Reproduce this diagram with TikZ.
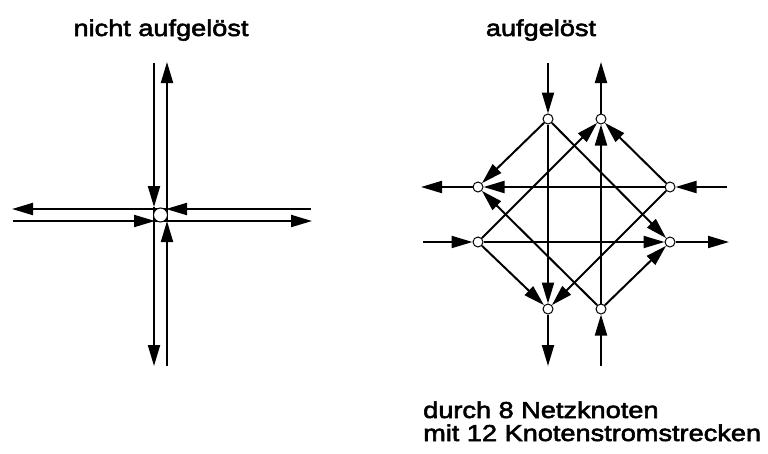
\documentclass[tikz,border=0pt]{standalone}
\usepackage{fontspec}
\newfontfamily\lblfont[FakeStretch=1.18,FakeBold=2.5]{Liberation Sans}
\usetikzlibrary{arrows.meta}
\begin{document}
\begin{tikzpicture}[x=1pt,y=-1pt,
  lane/.style={line width=2pt,-{Triangle[length=21pt,width=12pt]}},
  knot/.style={circle,draw,line width=1pt,fill=white,inner sep=0pt,minimum size=10pt},
  bigknot/.style={circle,draw,line width=1pt,fill=white,inner sep=0pt,minimum size=14pt},
  lbl/.style={font=\lblfont\fontsize{23}{23}\selectfont,inner sep=0pt}]
\useasboundingbox (0,0) rectangle (768,453);

% ---------- left: nicht aufgeloest ----------
\coordinate (L1a) at (154,63);  \coordinate (L1m) at (154,207); \coordinate (L1b) at (154,366);
\coordinate (L2a) at (167,366); \coordinate (L2m) at (167,221); \coordinate (L2b) at (167,62);
\coordinate (L3a) at (311,209); \coordinate (L3m) at (166,209); \coordinate (L3b) at (12,209);
\coordinate (L4a) at (13,221);  \coordinate (L4m) at (155,221); \coordinate (L4b) at (312,221);
\draw[lane] (L1a) -- (L1m); \draw[lane] (L1m) -- (L1b);
\draw[lane] (L2a) -- (L2m); \draw[lane] (L2m) -- (L2b);
\draw[lane] (L3a) -- (L3m); \draw[lane] (L3m) -- (L3b);
\draw[lane] (L4a) -- (L4m); \draw[lane] (L4m) -- (L4b);
\node[bigknot] (C) at (160.5,215) {};

% ---------- right: aufgeloest ----------
\node[knot] (N1) at (548,119) {};
\node[knot] (N2) at (601,119) {};
\node[knot] (W1) at (478,187) {};
\node[knot] (W2) at (478,242) {};
\node[knot] (E1) at (670,187) {};
\node[knot] (E2) at (670,242) {};
\node[knot] (S1) at (548,309) {};
\node[knot] (S2) at (601,309) {};

\coordinate (tin) at (548,63);  \coordinate (tout) at (601,62);
\coordinate (lout) at (421,187); \coordinate (lin) at (423,242);
\coordinate (rin) at (727,187); \coordinate (rout) at (729,242);
\coordinate (bout) at (548,366); \coordinate (bin) at (601,366);

\draw[lane] (tin) -- (N1);  \draw[lane] (N2) -- (tout);
\draw[lane] (W1) -- (lout); \draw[lane] (lin) -- (W2);
\draw[lane] (rin) -- (E1);  \draw[lane] (E2) -- (rout);
\draw[lane] (S1) -- (bout); \draw[lane] (bin) -- (S2);

\draw[lane] (N1) -- (W1); \draw[lane] (N1) -- (S1); \draw[lane] (N1) -- (E2);
\draw[lane] (E1) -- (N2); \draw[lane] (E1) -- (W1); \draw[lane] (E1) -- (S1);
\draw[lane] (W2) -- (N2); \draw[lane] (W2) -- (E2); \draw[lane] (W2) -- (S1);
\draw[lane] (S2) -- (N2); \draw[lane] (S2) -- (E2); \draw[lane] (S2) -- (W1);

% ---------- texts ----------
\node[lbl,anchor=base] (t1) at (161,36) {nicht aufgelöst};
\node[lbl,anchor=base] (t2) at (541,36) {aufgelöst};
\node[lbl,anchor=base west] (t3) at (423,418) {durch 8 Netzknoten};
\node[lbl,anchor=base west] (t4) at (423,441) {mit 12 Knotenstromstrecken};
\end{tikzpicture}
\end{document}
